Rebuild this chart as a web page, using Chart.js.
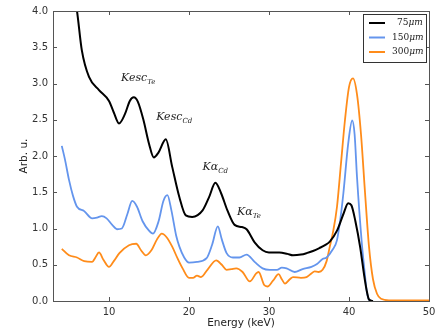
<!DOCTYPE html>
<html>
<head>
<meta charset="utf-8">
<script src="https://cdn.jsdelivr.net/npm/chart.js@4"></script>
<style>
  body { margin: 0; background: #fff; }
</style>
</head>
<body>
<canvas id="chart" width="448" height="330"></canvas>
<script>
// values (energy in keV, counts in arb. units)
const blackE = [5, 5.5, 6, 6.6, 7.5, 8.75, 10, 10.6, 11.25, 12, 12.6, 13.1, 13.6, 14.3, 15, 15.6, 16.2, 17.1, 17.9, 18.8, 19.6, 20.4, 21.7, 22.5, 23.3, 24, 24.8, 25.7, 26.6, 27.2, 28.2, 29.2, 30, 31.3, 32.3, 33, 34, 34.7, 35.5, 36.3, 37, 37.6, 38.5, 39.3, 39.9, 40.3, 40.8, 41.4, 41.9, 42.2, 42.5, 43]
const blackV = [4.7, 4.3, 4.0, 3.46, 3.09, 2.91, 2.76, 2.6, 2.45, 2.58, 2.76, 2.81, 2.75, 2.5, 2.17, 1.98, 2.05, 2.23, 1.85, 1.43, 1.18, 1.16, 1.25, 1.43, 1.63, 1.49, 1.25, 1.05, 1.02, 0.99, 0.81, 0.7, 0.67, 0.67, 0.65, 0.63, 0.64, 0.66, 0.69, 0.73, 0.77, 0.82, 0.97, 1.2, 1.35, 1.32, 1.1, 0.74, 0.35, 0.15, 0.02, 0]

const blueE = [4.1, 4.5, 5, 5.5, 6, 6.9, 7.9, 8.5, 9.1, 9.7, 10.4, 11, 11.6, 12.3, 12.9, 13.5, 14.2, 15, 15.5, 16.2, 16.8, 17.3, 17.8, 18.4, 18.8, 19.4, 20, 21, 22.2, 22.9, 23.6, 24.1, 24.7, 25.5, 26.3, 27.2, 28.2, 29.2, 30.1, 31, 31.6, 32.2, 33.2, 34.2, 35.3, 36, 36.7, 37.2, 37.9, 38.5, 39, 39.3, 39.9, 40.4, 40.7, 41, 41.6, 42, 42.2, 42.5, 43]
const blueV = [2.14, 1.95, 1.67, 1.45, 1.3, 1.24, 1.14, 1.15, 1.17, 1.14, 1.05, 0.99, 1.0, 1.2, 1.38, 1.3, 1.1, 0.97, 0.93, 1.1, 1.38, 1.46, 1.25, 0.9, 0.75, 0.6, 0.53, 0.54, 0.59, 0.78, 1.03, 0.85, 0.66, 0.6, 0.6, 0.64, 0.54, 0.45, 0.43, 0.43, 0.46, 0.45, 0.4, 0.44, 0.47, 0.51, 0.58, 0.6, 0.7, 0.84, 1.2, 1.49, 2.17, 2.49, 2.3, 1.71, 0.8, 0.35, 0.15, 0.02, 0]

const orangeE = [4.1, 5, 6, 6.9, 7.9, 8.3, 8.75, 9.3, 10, 10.6, 11.3, 12.5, 13.4, 14, 14.6, 15.3, 16, 16.6, 17.2, 17.9, 18.6, 19.2, 20, 20.5, 21, 21.5, 22.3, 23.4, 24.1, 24.7, 25.3, 25.9, 26.7, 27.6, 28.4, 28.7, 29.4, 29.8, 30.5, 31.2, 31.6, 32, 32.6, 33, 34, 34.7, 35.3, 35.7, 36.2, 36.7, 37.2, 37.6, 38, 38.5, 39, 39.5, 40, 40.5, 41, 41.5, 42, 42.5, 43, 43.5, 44, 45, 50]
const orangeV = [0.72, 0.63, 0.6, 0.55, 0.54, 0.6, 0.67, 0.57, 0.47, 0.55, 0.66, 0.77, 0.79, 0.7, 0.63, 0.7, 0.85, 0.93, 0.88, 0.75, 0.58, 0.45, 0.32, 0.32, 0.35, 0.33, 0.43, 0.56, 0.5, 0.43, 0.44, 0.45, 0.4, 0.27, 0.38, 0.4, 0.22, 0.2, 0.28, 0.37, 0.3, 0.24, 0.3, 0.33, 0.32, 0.33, 0.38, 0.41, 0.4, 0.43, 0.55, 0.75, 0.95, 1.3, 1.9, 2.5, 2.95, 3.07, 2.85, 2.3, 1.5, 0.75, 0.3, 0.1, 0.03, 0.01, 0.01]

const seriesNames = ['75', '150', '300']
const seriesColors = ['#000000', '#6495ed', '#ff8c1a']
const xTicks = [10, 20, 30, 40, 50]

// peak labels: [main text, subscript, energy, height]
const peakLabels = [
    ['Kesc', 'Te', 11.5, 3.07],
    ['Kesc', 'Cd', 15.9, 2.53],
    ['K\u03b1', 'Cd', 21.7, 1.85],
    ['K\u03b1', 'Te', 26.0, 1.23]
]

function toPoints(xs, ys) {
    return xs.map((x, i) => ({ x: x, y: ys[i] }))
}

const frameColor = '#555'

const decorations = {
    id: 'decorations',
    afterDatasetsDraw(chart) {
        const ctx = chart.ctx
        const area = chart.chartArea
        const xs = chart.scales.x
        const ys = chart.scales.y
        ctx.save()

        // peak labels
        ctx.fillStyle = '#222'
        ctx.textBaseline = 'middle'
        peakLabels.forEach((p) => {
            const px = xs.getPixelForValue(p[2])
            const py = ys.getPixelForValue(p[3])
            ctx.font = 'italic 11px "DejaVu Serif"'
            ctx.textAlign = 'left'
            ctx.fillText(p[0], px, py)
            const w = ctx.measureText(p[0]).width
            ctx.font = 'italic 7px "DejaVu Serif"'
            ctx.fillText(p[1], px + w, py + 4)
        })

        // frame
        ctx.strokeStyle = frameColor
        ctx.lineWidth = 1
        ctx.strokeRect(area.left + 0.5, area.top + 0.5, area.right - area.left, area.bottom - area.top)

        // inward ticks on all four sides
        const tl = 4
        ctx.beginPath()
        xTicks.forEach((v) => {
            const px = Math.round(xs.getPixelForValue(v)) + 0.5
            ctx.moveTo(px, area.bottom)
            ctx.lineTo(px, area.bottom - tl)
            ctx.moveTo(px, area.top)
            ctx.lineTo(px, area.top + tl)
        })
        ys.ticks.forEach((t) => {
            const py = Math.round(ys.getPixelForValue(t.value)) + 0.5
            ctx.moveTo(area.left, py)
            ctx.lineTo(area.left + tl, py)
            ctx.moveTo(area.right, py)
            ctx.lineTo(area.right - tl, py)
        })
        ctx.stroke()

        // legend box
        const bx = 363, by = 14, bw = 63, bh = 48
        ctx.fillStyle = '#fff'
        ctx.fillRect(bx, by, bw, bh)
        ctx.strokeStyle = '#333'
        ctx.strokeRect(bx + 0.5, by + 0.5, bw, bh)
        seriesNames.forEach((name, i) => {
            const ly = by + 9 + i * 14.5
            ctx.strokeStyle = seriesColors[i]
            ctx.lineWidth = 2
            ctx.beginPath()
            ctx.moveTo(bx + 6, ly)
            ctx.lineTo(bx + 22, ly)
            ctx.stroke()
            ctx.fillStyle = '#222'
            ctx.textAlign = 'left'
            ctx.textBaseline = 'middle'
            ctx.font = '9px "DejaVu Serif"'
            ctx.fillText(name, bx + 29 + (name.length === 2 ? 5 : 0), ly)
            const w = ctx.measureText(name).width
            ctx.font = 'italic 9px "DejaVu Serif"'
            ctx.fillText('\u03bcm', bx + 29 + (name.length === 2 ? 5 : 0) + w, ly)
        })
        ctx.restore()
    }
}

const chart = new Chart(document.getElementById('chart'), {
    type: 'line',
    data: {
        datasets: [
            { label: seriesNames[0], data: toPoints(blackE, blackV), borderColor: seriesColors[0], borderWidth: 2 },
            { label: seriesNames[1], data: toPoints(blueE, blueV), borderColor: seriesColors[1], borderWidth: 1.8 },
            { label: seriesNames[2], data: toPoints(orangeE, orangeV), borderColor: seriesColors[2], borderWidth: 1.8 }
        ].map((d) => Object.assign(d, { pointRadius: 0, fill: false, cubicInterpolationMode: 'monotone' }))
    },
    options: {
        responsive: false,
        animation: false,
        layout: { padding: { top: 11, right: 19, left: 18, bottom: 0 } },
        plugins: { legend: { display: false }, tooltip: { enabled: false } },
        scales: {
            x: {
                type: 'linear',
                min: 3,
                max: 50,
                afterBuildTicks: (scale) => { scale.ticks = xTicks.map((v) => ({ value: v })) },
                afterFit: (scale) => { scale.height = 29 },
                grid: { display: false, drawTicks: false },
                border: { display: false },
                ticks: { color: '#333', padding: 5, maxRotation: 0, font: { family: 'DejaVu Sans', size: 10 } },
                title: { display: true, text: 'Energy (keV)', color: '#222', padding: 0, font: { family: 'DejaVu Sans', size: 10.5 } }
            },
            y: {
                min: 0,
                max: 4,
                afterFit: (scale) => { scale.width = 35 },
                grid: { display: false, drawTicks: false },
                border: { display: false },
                ticks: { stepSize: 0.5, color: '#333', padding: 5, font: { family: 'DejaVu Sans', size: 10 },
                    callback: (v) => v.toFixed(1) },
                title: { display: true, text: 'Arb. u.', color: '#222', padding: 0, font: { family: 'DejaVu Sans', size: 10.5 } }
            }
        }
    },
    plugins: [decorations]
})
</script>
</body>
</html>
